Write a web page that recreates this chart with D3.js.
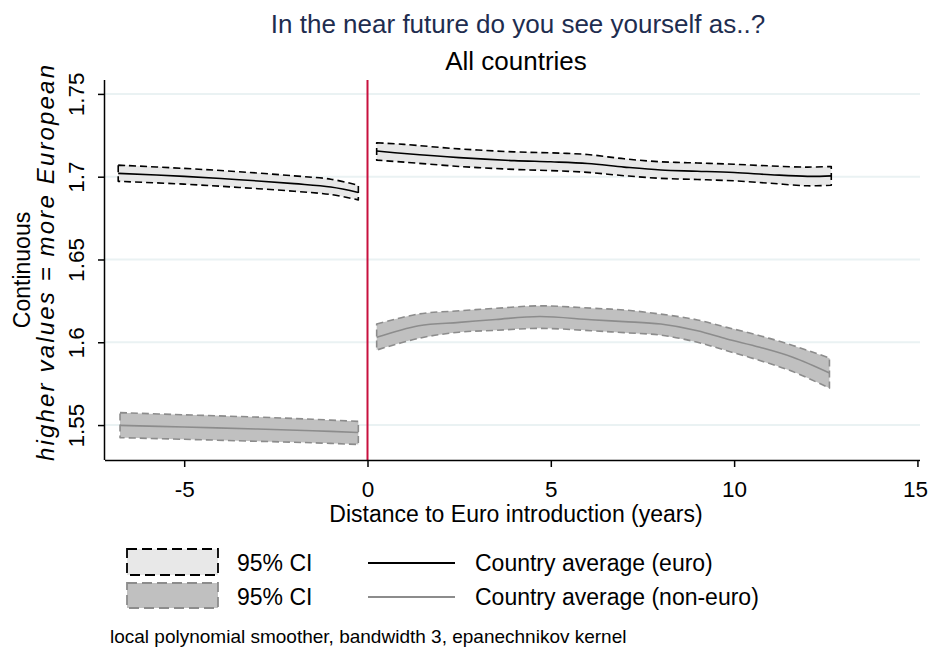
<!DOCTYPE html>
<html>
<head>
<meta charset="utf-8">
<script src="https://cdn.jsdelivr.net/npm/d3@7"></script>
<style>
  html, body { margin: 0; padding: 0; background: #fff; }
  svg { display: block; font-family: "Liberation Sans", Arial, sans-serif; }
</style>
</head>
<body>
<svg id="chart" width="928" height="649"></svg>
<script>
// ---- Data ----
const xTicks = [-5, 0, 5, 10, 15];
const yTicks = [1.55, 1.6, 1.65, 1.7, 1.75];
const yTickLabels = ["1.55", "1.6", "1.65", "1.7", "1.75"];

// Euro countries, before introduction
const euroPreX    = [-6.8, -5, -3.5, -2, -1, -0.25];
const euroPreMean = [1.7020, 1.7002, 1.6982, 1.6958, 1.6938, 1.6905];
const euroPreLo   = [1.6972, 1.6955, 1.6935, 1.6912, 1.6892, 1.6860];
const euroPreHi   = [1.7070, 1.7050, 1.7030, 1.7005, 1.6985, 1.6948];

// Euro countries, after introduction
const euroPostX    = [0.25, 1, 2.5, 4, 5, 6, 7, 8, 9, 10, 11, 12, 12.65];
const euroPostMean = [1.7155, 1.7140, 1.7115, 1.7097, 1.7090, 1.7080, 1.7058, 1.7040, 1.7033, 1.7025, 1.7012, 1.7002, 1.7005];
const euroPostHi   = [1.7205, 1.7195, 1.7168, 1.7150, 1.7144, 1.7134, 1.7108, 1.7090, 1.7083, 1.7075, 1.7065, 1.7058, 1.7062];
const euroPostLo   = [1.7100, 1.7088, 1.7062, 1.7044, 1.7037, 1.7026, 1.7006, 1.6990, 1.6983, 1.6975, 1.6960, 1.6945, 1.6948];

// Non-euro countries, before
const nonPreX    = [-6.75, -5, -3, -1.5, -0.25];
const nonPreMean = [1.5498, 1.5488, 1.5476, 1.5466, 1.5455];
const nonPreHi   = [1.5575, 1.5562, 1.5548, 1.5535, 1.5522];
const nonPreLo   = [1.5424, 1.5414, 1.5402, 1.5393, 1.5383];

// Non-euro countries, after
const nonPostX    = [0.25, 1.4, 2.5, 3.5, 4.7, 6.1, 7, 8, 9, 9.8, 10.7, 11.6, 12.6];
const nonPostMean = [1.6030, 1.6100, 1.6120, 1.6138, 1.6156, 1.6136, 1.6125, 1.6110, 1.6070, 1.6020, 1.5970, 1.5910, 1.5815];
const nonPostHi   = [1.6110, 1.6171, 1.6190, 1.6205, 1.6220, 1.6206, 1.6195, 1.6170, 1.6135, 1.6090, 1.6040, 1.5981, 1.5905];
const nonPostLo   = [1.5953, 1.6024, 1.6061, 1.6072, 1.6084, 1.6070, 1.6058, 1.6043, 1.6000, 1.5949, 1.5890, 1.5823, 1.5723];

const titleText = "In the near future do you see yourself as..?";
const subtitleText = "All countries";
const xTitle = "Distance to Euro introduction (years)";
const yTitle1 = "Continuous";
const yTitle2 = "higher values = more European";
const legendLabels = ["95% CI", "95% CI", "Country average (euro)", "Country average (non-euro)"];
const noteText = "local polynomial smoother, bandwidth 3, epanechnikov kernel";

// ---- Layout ----
const svg = d3.select("#chart");
const pL = 105, pR = 920, pT = 80, pB = 460;
const x = d3.scaleLinear().domain([-7.16, 15.07]).range([pL, pR]);
const y = d3.scaleLinear().domain([1.5289, 1.7584]).range([pB, pT]);

const FONT = "'Liberation Sans', Arial, sans-serif";

// gridlines
svg.append("g").selectAll("line").data(yTicks).join("line")
  .attr("x1", pL).attr("x2", pR)
  .attr("y1", d => y(d)).attr("y2", d => y(d))
  .attr("stroke", "#eaf2f3").attr("stroke-width", 2);

function pts(xs, vs) { return xs.map((d, i) => [d, vs[i]]); }
const curve = d3.curveCatmullRom.alpha(0.5);

function band(xs, lo, hi, fill, stroke) {
  const data = xs.map((d, i) => ({x: d, lo: lo[i], hi: hi[i]}));
  const area = d3.area().x(d => x(d.x)).y0(d => y(d.lo)).y1(d => y(d.hi)).curve(curve);
  svg.append("path").attr("d", area(data))
    .attr("fill", fill).attr("stroke", stroke).attr("stroke-width", 1.6)
    .attr("stroke-dasharray", "7,4").attr("stroke-linejoin", "round");
}
function line(xs, vs, color) {
  const l = d3.line().x(d => x(d[0])).y(d => y(d[1])).curve(curve);
  svg.append("path").attr("d", l(pts(xs, vs)))
    .attr("fill", "none").attr("stroke", color).attr("stroke-width", 1.6);
}

band(euroPreX, euroPreLo, euroPreHi, "#e8e8e8", "#000");
band(euroPostX, euroPostLo, euroPostHi, "#e8e8e8", "#000");
band(nonPreX, nonPreLo, nonPreHi, "#c0c0c0", "#8c8c8c");
band(nonPostX, nonPostLo, nonPostHi, "#c0c0c0", "#8c8c8c");
line(euroPreX, euroPreMean, "#000");
line(euroPostX, euroPostMean, "#000");
line(nonPreX, nonPreMean, "#8c8c8c");
line(nonPostX, nonPostMean, "#8c8c8c");

// vertical red line at 0
svg.append("line").attr("x1", x(0)).attr("x2", x(0)).attr("y1", pT).attr("y2", pB)
  .attr("stroke", "#c8103e").attr("stroke-width", 2);

// x axis
const xAxis = svg.append("g").attr("transform", `translate(0,${pB})`)
  .call(d3.axisBottom(x).tickValues(xTicks).tickSize(7).tickPadding(14).tickFormat(d => d < 0 ? "-" + Math.abs(d) : String(d)));
xAxis.select(".domain").attr("d", `M${pL},0.5H${pR}`).attr("stroke", "#000").attr("stroke-width", 1.5);
xAxis.selectAll(".tick line").attr("stroke", "#000").attr("stroke-width", 1.5);
xAxis.selectAll(".tick text").attr("font-family", FONT).attr("font-size", 22.5).attr("fill", "#000")
  .attr("dx", d => d === 15 ? -2.5 : 0);

// y axis
const yAxis = svg.append("g").attr("transform", `translate(${pL},0)`)
  .call(d3.axisLeft(y).tickValues(yTicks).tickSize(7).tickFormat((d, i) => yTickLabels[i]));
yAxis.select(".domain").attr("d", `M-0.5,${pT}V${pB}`).attr("stroke", "#000").attr("stroke-width", 1.5);
yAxis.selectAll(".tick line").attr("stroke", "#000").attr("stroke-width", 1.5);
yAxis.selectAll(".tick text")
  .attr("font-family", FONT).attr("font-size", 22.5).attr("fill", "#000")
  .attr("x", null).attr("dy", null)
  .attr("text-anchor", "middle")
  .attr("transform", "translate(-21,0) rotate(-90)");

// titles
svg.append("text").attr("x", 518).attr("y", 33).attr("text-anchor", "middle")
  .attr("font-family", FONT).attr("font-size", 26).attr("fill", "#1e2d4f").text(titleText);
svg.append("text").attr("x", 516).attr("y", 70).attr("text-anchor", "middle")
  .attr("font-family", FONT).attr("font-size", 26).attr("fill", "#000").text(subtitleText);

svg.append("text").attr("x", 516).attr("y", 522).attr("text-anchor", "middle")
  .attr("font-family", FONT).attr("font-size", 23).attr("fill", "#000").text(xTitle);

svg.append("text").attr("transform", "translate(30,270) rotate(-90)").attr("text-anchor", "middle")
  .attr("font-family", FONT).attr("font-size", 23).attr("fill", "#000").text(yTitle1);
svg.append("text").attr("transform", "translate(54,263) rotate(-90)").attr("text-anchor", "middle")
  .attr("font-family", FONT).attr("font-size", 24).attr("font-style", "italic").attr("fill", "#000")
  .attr("textLength", 396).attr("lengthAdjust", "spacing").text(yTitle2);

// legend
const lg = svg.append("g");
lg.append("rect").attr("x", 127).attr("y", 549).attr("width", 91).attr("height", 26)
  .attr("fill", "#e8e8e8").attr("stroke", "#000").attr("stroke-width", 1.8).attr("stroke-dasharray", "10,5");
lg.append("rect").attr("x", 127).attr("y", 583).attr("width", 91).attr("height", 25)
  .attr("fill", "#c0c0c0").attr("stroke", "#8c8c8c").attr("stroke-width", 1.8).attr("stroke-dasharray", "10,5");
lg.append("line").attr("x1", 368).attr("x2", 455).attr("y1", 563).attr("y2", 563).attr("stroke", "#000").attr("stroke-width", 1.8);
lg.append("line").attr("x1", 368).attr("x2", 455).attr("y1", 597).attr("y2", 597).attr("stroke", "#8c8c8c").attr("stroke-width", 1.8);
[[237, 571, 0], [237, 605, 1], [475, 571, 2], [475, 605, 3]].forEach(([tx, ty, i]) => {
  lg.append("text").attr("x", tx).attr("y", ty).attr("font-family", FONT).attr("font-size", 23)
    .attr("fill", "#000").text(legendLabels[i]);
});

svg.append("text").attr("x", 110).attr("y", 643).attr("font-family", FONT).attr("font-size", 19)
  .attr("fill", "#000").text(noteText);
</script>
</body>
</html>
